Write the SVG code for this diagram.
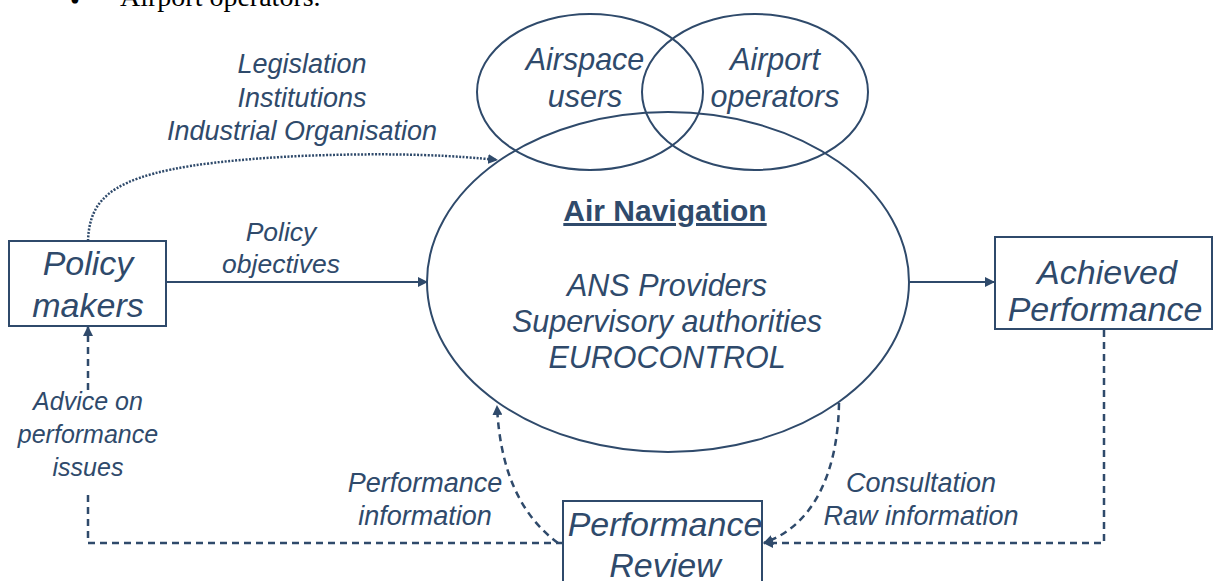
<svg xmlns="http://www.w3.org/2000/svg" width="1217" height="581" viewBox="0 0 1217 581">
<defs>
<style>
.t{font-family:"Liberation Sans",Arial,sans-serif;font-style:italic;fill:#2F4A6B;text-anchor:middle}
.ln{fill:none;stroke:#2F4A6B;stroke-width:2}
.dash{fill:none;stroke:#2F4A6B;stroke-width:2.5;stroke-dasharray:7 5}
.dot{fill:none;stroke:#2F4A6B;stroke-width:2.5;stroke-dasharray:2 1.5}
</style>
<marker id="ah" markerWidth="10" markerHeight="10" refX="9" refY="5" orient="auto" markerUnits="userSpaceOnUse">
<path d="M0,0 L10,5 L0,10 Z" fill="#2F4A6B"/>
</marker>
</defs>
<rect width="1217" height="581" fill="#ffffff"/>
<text x="70" y="10" font-family="'Liberation Serif',serif" font-size="28" fill="#000">•</text>
<text x="120" y="6" font-family="'Liberation Serif',serif" font-size="28" fill="#000">Airport operators.</text>

<g id="connectors">
<path class="dot" d="M88,241 C90,190 120,165 300,156 C400,152 460,156 497,160" marker-end="url(#ah)"/>
<line class="ln" x1="166" y1="282" x2="427" y2="282" marker-end="url(#ah)"/>
<line class="ln" x1="910" y1="282" x2="994" y2="282" marker-end="url(#ah)"/>
<path class="dash" d="M558,543 C520,515 500,470 497,406" marker-end="url(#ah)"/>
<path class="dash" d="M839,403 C838,470 815,525 764,543" marker-end="url(#ah)"/>
<path class="dash" d="M1104,330 L1104,543 L764,543" marker-end="url(#ah)"/>
<path class="dash" d="M563,543 L88,543 L88,490"/>
<line class="dash" x1="88" y1="390" x2="88" y2="327" marker-end="url(#ah)"/>
</g>

<g id="airspace-users">
<ellipse class="ln" cx="590" cy="92" rx="113" ry="78"/>
<text class="t" x="585" y="70" font-size="30.5">Airspace</text>
<text class="t" x="585" y="107" font-size="30.5">users</text>
</g>
<g id="airport-operators">
<ellipse class="ln" cx="755" cy="92" rx="113" ry="78"/>
<text class="t" x="775" y="70" font-size="30.5">Airport</text>
<text class="t" x="775" y="107" font-size="30.5">operators</text>
</g>
<g id="air-navigation">
<ellipse class="ln" cx="668" cy="282" rx="241" ry="170"/>
<text x="665" y="221" font-family="'Liberation Sans',Arial,sans-serif" font-weight="bold" font-size="30" fill="#2F4A6B" text-anchor="middle" text-decoration="underline">Air Navigation</text>
<text class="t" x="667" y="296" font-size="30.5">ANS Providers</text>
<text class="t" x="667" y="332" font-size="30.5">Supervisory authorities</text>
<text class="t" x="667" y="368" font-size="30.5">EUROCONTROL</text>
</g>
<g id="policy-makers">
<rect class="ln" x="9" y="241" width="157" height="85" fill="#fff"/>
<text class="t" x="88" y="275" font-size="34">Policy</text>
<text class="t" x="88" y="317" font-size="34">makers</text>
</g>
<g id="achieved-performance">
<rect class="ln" x="995" y="237" width="217" height="92" fill="#fff"/>
<text class="t" x="1107" y="284" font-size="34">Achieved</text>
<text class="t" x="1105" y="321" font-size="34">Performance</text>
</g>
<g id="performance-review">
<rect class="ln" x="563" y="501" width="199" height="100" fill="#fff"/>
<text class="t" x="665" y="536" font-size="34">Performance</text>
<text class="t" x="665" y="577" font-size="34">Review</text>
</g>

<g id="labels">
<text class="t" x="302" y="73" font-size="27">Legislation</text>
<text class="t" x="302" y="107" font-size="27">Institutions</text>
<text class="t" x="302" y="140" font-size="27">Industrial Organisation</text>
<text class="t" x="281" y="241" font-size="26.5">Policy</text>
<text class="t" x="281" y="273" font-size="26.5">objectives</text>
<text class="t" x="88" y="410" font-size="25">Advice on</text>
<text class="t" x="88" y="443" font-size="25">performance</text>
<text class="t" x="88" y="476" font-size="25">issues</text>
<text class="t" x="425" y="492" font-size="27">Performance</text>
<text class="t" x="425" y="525" font-size="27">information</text>
<text class="t" x="921" y="492" font-size="27">Consultation</text>
<text class="t" x="921" y="525" font-size="27">Raw information</text>
</g>
</svg>
